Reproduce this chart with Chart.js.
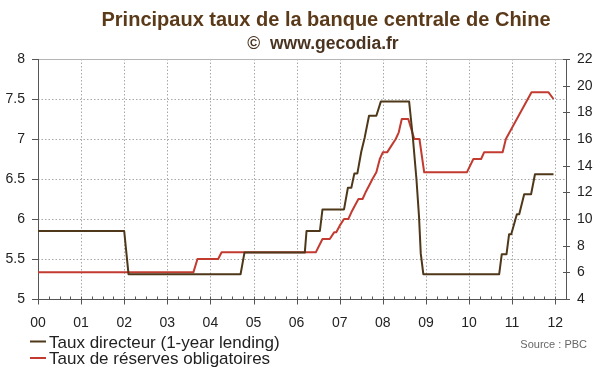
<!DOCTYPE html>
<html>
<head>
<meta charset="utf-8">
<script src="https://cdn.jsdelivr.net/npm/chart.js@4.4.1/dist/chart.umd.min.js"></script>
<style>
  html, body { margin: 0; padding: 0; background: #fff; }
</style>
</head>
<body>
<canvas id="c" width="600" height="372"></canvas>
<script>
// textes
const titre = 'Principaux taux de la banque centrale de Chine';
const sousTitre = '\u00A9  www.gecodia.fr';
const source = 'Source : PBC';

// axe des x : années 2000 -> 2012 (x = années depuis 2000)
const annees = [0, 1, 2, 3, 4, 5, 6, 7, 8, 9, 10, 11, 12];

// Taux directeur (1-year lending), axe de gauche, en %
const directeurX = [0, 2.0, 2.1, 4.7, 4.79, 6.19, 6.23, 6.54, 6.6, 7.1, 7.19, 7.27, 7.34, 7.41,
  7.5, 7.58, 7.68, 7.85, 7.955, 8.61, 8.70, 8.78, 8.84, 8.88, 8.94,
  10.70, 10.76, 10.87, 10.93, 10.98, 11.11, 11.165, 11.28, 11.44, 11.53, 11.96];
const directeurY = [5.85, 5.85, 5.31, 5.31, 5.58, 5.58, 5.85, 5.85, 6.12, 6.12, 6.39, 6.39, 6.57, 6.57,
  6.84, 7.02, 7.29, 7.29, 7.47, 7.47, 7.0, 6.5, 6.03, 5.57, 5.31,
  5.31, 5.56, 5.56, 5.81, 5.81, 6.06, 6.06, 6.31, 6.31, 6.56, 6.56];

// Taux de réserves obligatoires, axe de droite, en %
const reservesX = [0, 3.605, 3.70, 4.18, 4.26, 6.445, 6.6, 6.77, 6.87, 6.92, 7.0, 7.1, 7.2,
  7.27, 7.35, 7.435, 7.53, 7.6, 7.68, 7.76, 7.85, 7.93, 8.0, 8.1, 8.2, 8.3, 8.37, 8.44, 8.59,
  8.73, 8.85, 8.96, 9.95, 10.1, 10.28, 10.35, 10.78, 10.855, 11.45, 11.845, 11.96];
const reservesY = [6, 6, 7, 7, 7.5, 7.5, 8.5, 8.5, 9, 9, 9.5, 10, 10,
  10.5, 11, 11.5, 11.5, 12, 12.5, 13, 13.5, 14.5, 15, 15, 15.5, 16, 16.5, 17.5, 17.5,
  16, 16, 13.5, 13.5, 14.5, 14.5, 15, 15, 16, 19.5, 19.5, 19];

const FONT = 'Arial, "Liberation Sans", sans-serif';
const BRUN = '#4e3819';
const ROUGE = '#c23b30';

function points(xs, ys) {
    return xs.map((x, i) => ({x: x, y: ys[i]}));
}

// grille en pointillés, sous les courbes
const grillePointillee = {
    id: 'grillePointillee',
    beforeDatasetsDraw(chart) {
        const {ctx, chartArea: a, scales} = chart;
        ctx.save();
        ctx.strokeStyle = '#a8a8a8';
        ctx.lineWidth = 1;
        ctx.setLineDash([1.5, 2]);
        ctx.beginPath();
        for (const an of annees) {
            if (an === 0) continue;
            const px = Math.round(scales.x.getPixelForValue(an)) + 0.5;
            ctx.moveTo(px, a.top);
            ctx.lineTo(px, a.bottom);
        }
        for (const t of scales.y.ticks) {
            if (t.value === 5 || t.value === 8) continue;
            const py = Math.round(scales.y.getPixelForValue(t.value)) + 0.5;
            ctx.moveTo(a.left, py);
            ctx.lineTo(a.right, py);
        }
        ctx.stroke();
        ctx.restore();
    }
};

// titre, légende, petites graduations
const decor = {
    id: 'decor',
    afterDraw(chart) {
        const {ctx, chartArea: a, scales} = chart;
        const xs = scales.x, ys = scales.y, ys2 = scales.y2;
        ctx.save();

        // ligne du haut
        ctx.strokeStyle = '#b5b5b5';
        ctx.lineWidth = 1;
        ctx.beginPath();
        ctx.moveTo(a.left, Math.round(a.top) + 0.5);
        ctx.lineTo(a.right, Math.round(a.top) + 0.5);
        ctx.stroke();

        // graduations
        ctx.strokeStyle = '#555';
        ctx.beginPath();
        for (const t of ys.ticks) {
            const py = Math.round(ys.getPixelForValue(t.value)) + 0.5;
            ctx.moveTo(a.left - 6, py);
            ctx.lineTo(a.left + 1, py);
        }
        for (const t of ys2.ticks) {
            const py = Math.round(ys2.getPixelForValue(t.value)) + 0.5;
            ctx.moveTo(a.right - 3, py);
            ctx.lineTo(a.right + 4, py);
        }
        const b = Math.round(a.bottom) + 0.5;
        for (const an of annees) {
            const px = Math.round(xs.getPixelForValue(an)) + 0.5;
            ctx.moveTo(px, b - 3);
            ctx.lineTo(px, b + 5);
            if (an < annees[annees.length - 1]) {
                for (const q of [0.25, 0.5, 0.75]) {
                    const pq = Math.round(xs.getPixelForValue(an + q)) + 0.5;
                    ctx.moveTo(pq, b - 3);
                    ctx.lineTo(pq, b);
                }
            }
        }
        ctx.stroke();

        // titres
        ctx.textAlign = 'center';
        ctx.textBaseline = 'alphabetic';
        ctx.fillStyle = '#5b3a1a';
        ctx.font = 'bold 20px ' + FONT;
        ctx.fillText(titre, 326, 26);
        ctx.fillStyle = '#4a3420';
        ctx.font = 'bold 17.5px ' + FONT;
        ctx.fillText(sousTitre, 323, 49);

        // légende
        ctx.textAlign = 'left';
        ctx.font = '17px ' + FONT;
        chart.data.datasets.forEach((ds, i) => {
            const ly = 341.5 + i * 16.5;
            ctx.strokeStyle = ds.borderColor;
            ctx.lineWidth = 2;
            ctx.beginPath();
            ctx.moveTo(30, ly);
            ctx.lineTo(46, ly);
            ctx.stroke();
            ctx.fillStyle = '#222';
            ctx.fillText(ds.label, 49, ly + 6);
        });

        // source
        ctx.textAlign = 'right';
        ctx.fillStyle = '#666';
        ctx.font = '11px ' + FONT;
        ctx.fillText(source, 587, 348);
        ctx.restore();
    }
};

const sansGrille = {drawOnChartArea: false, drawTicks: false};

new Chart(document.getElementById('c'), {
    type: 'line',
    data: {
        datasets: [
            {
                label: 'Taux directeur (1-year lending)',
                data: points(directeurX, directeurY),
                yAxisID: 'y',
                borderColor: BRUN,
                borderWidth: 2,
                pointRadius: 0,
                fill: false,
                tension: 0,
                borderJoinStyle: 'round'
            },
            {
                label: 'Taux de réserves obligatoires',
                data: points(reservesX, reservesY),
                yAxisID: 'y2',
                borderColor: ROUGE,
                borderWidth: 2,
                pointRadius: 0,
                fill: false,
                tension: 0,
                borderJoinStyle: 'round'
            }
        ]
    },
    options: {
        responsive: false,
        animation: false,
        layout: {padding: {top: 59, left: 0, right: 0, bottom: 0}},
        plugins: {
            legend: {display: false},
            title: {display: false},
            tooltip: {enabled: false}
        },
        scales: {
            x: {
                type: 'linear',
                min: 0,
                max: 12.25,
                afterFit: s => { s.height = 73; },
                grid: sansGrille,
                border: {color: '#555'},
                ticks: {
                    stepSize: 1,
                    includeBounds: false,
                    padding: 16,
                    color: '#222',
                    font: {family: FONT, size: 14},
                    maxRotation: 0,
                    callback: v => String(v).padStart(2, '0')
                }
            },
            y: {
                position: 'left',
                min: 5,
                max: 8,
                afterFit: s => { s.width = 38; },
                grid: sansGrille,
                border: {color: '#555'},
                ticks: {
                    stepSize: 0.5,
                    padding: 13,
                    color: '#222',
                    font: {family: FONT, size: 14},
                    callback: v => String(v)
                }
            },
            y2: {
                position: 'right',
                min: 4,
                max: 22,
                afterFit: s => { s.width = 34; },
                grid: sansGrille,
                border: {color: '#555'},
                ticks: {
                    stepSize: 2,
                    padding: 11,
                    color: '#222',
                    font: {family: FONT, size: 14},
                    callback: v => String(v)
                }
            }
        }
    },
    plugins: [grillePointillee, decor]
});
</script>
</body>
</html>
